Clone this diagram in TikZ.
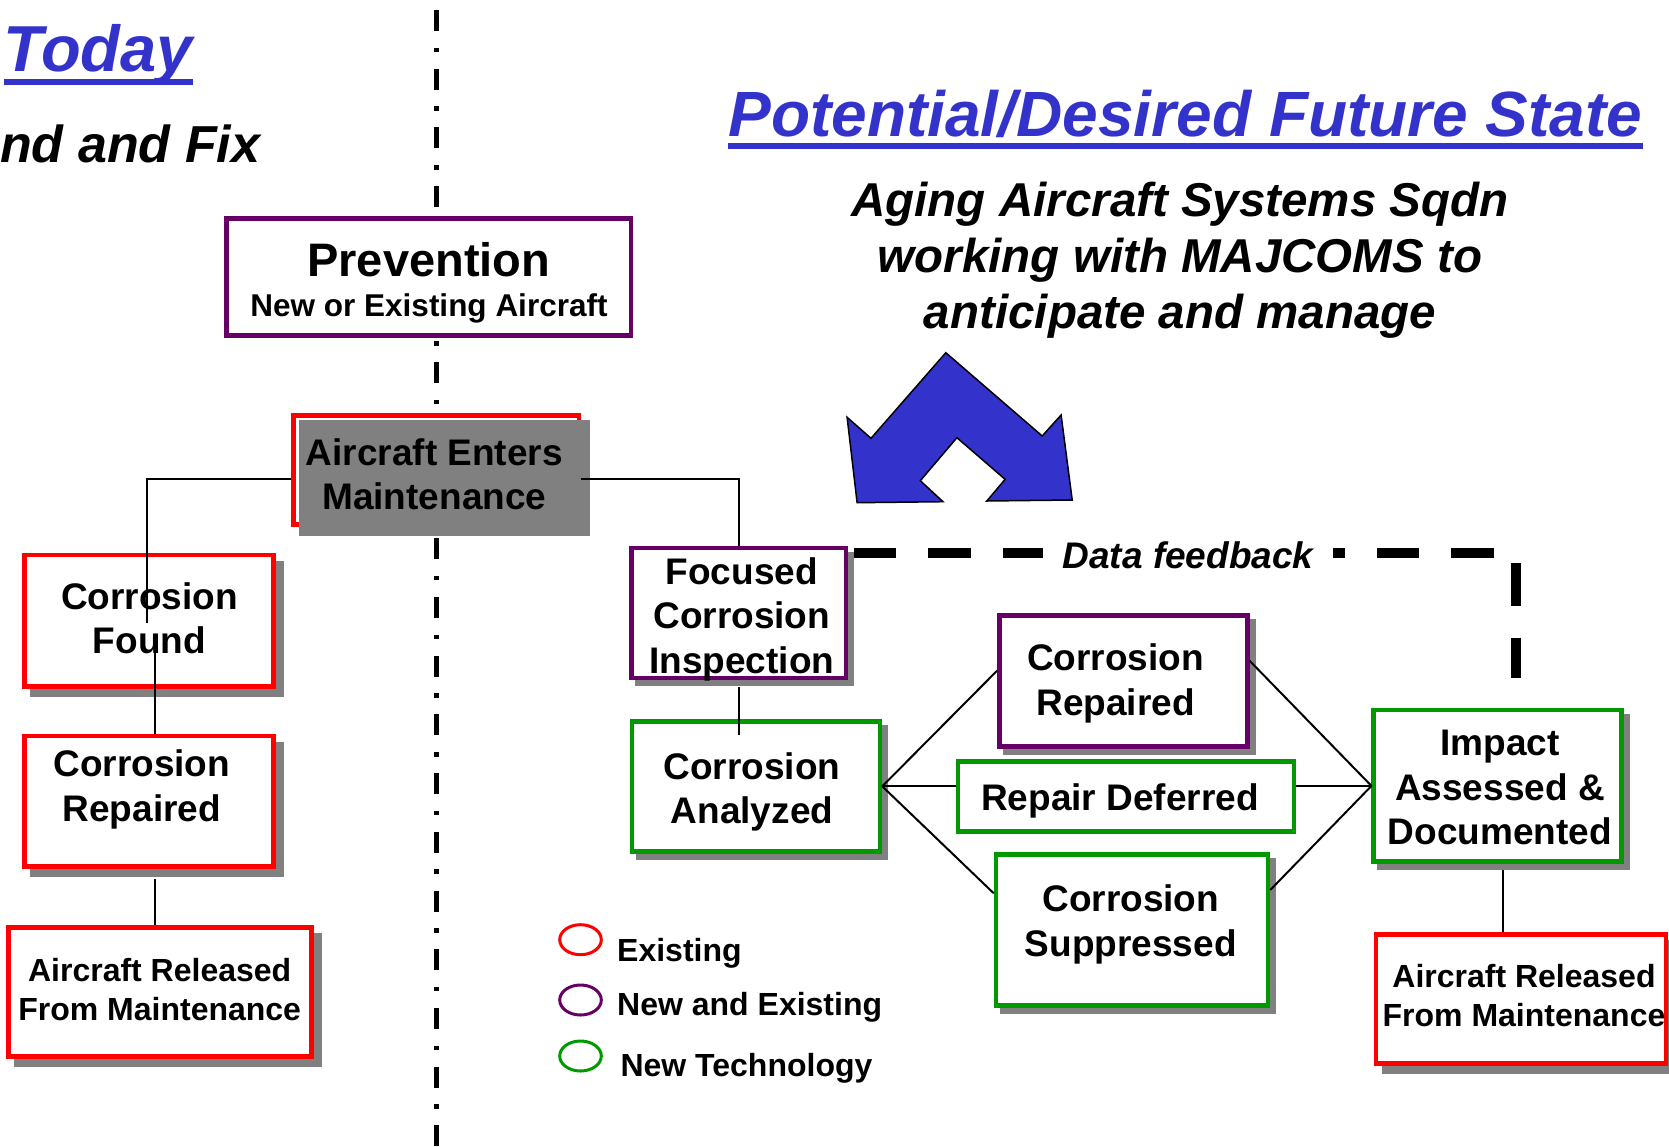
\documentclass[tikz,border=0pt]{standalone}
\usepackage{fontspec}
\setmainfont{Liberation Sans}
\usetikzlibrary{calc,shapes.geometric}
\definecolor{cRed}{HTML}{FF0000}
\definecolor{cPurple}{HTML}{660066}
\definecolor{cGreen}{HTML}{009900}
\definecolor{cShadow}{HTML}{808080}
\definecolor{cBlue}{HTML}{3333CC}
\newcommand\fsz[2]{\fontsize{#1pt}{#2pt}\selectfont}
\newcommand\mlines[1]{\begin{tabular}[t]{@{}c@{}}#1\end{tabular}}
\renewcommand\arraystretch{1}

\begin{document}
\begin{tikzpicture}[x=1pt,y=-1pt,
  box/.style={draw=#1, line width=4.5pt, fill=white, rectangle, inner sep=0pt},
  shadowA/.style={preaction={draw=cShadow, fill=cShadow, line width=4.5pt,
      transform canvas={shift={(8pt,-8pt)}}}},
  shadowB/.style={preaction={draw=cShadow, fill=cShadow, line width=4.5pt,
      transform canvas={shift={(6pt,-6pt)}}}},
  wire/.style={draw=black, line width=2pt},
  txt/.style={anchor=base, inner sep=0pt, text=black},
  big/.style={font=\bfseries\fsz{37}{44.6}},
  small/.style={font=\bfseries\fsz{32}{38.7}},
  legtext/.style={anchor=base west, inner sep=0pt, font=\bfseries\fsz{32}{38}},
  legmark/.style={draw=#1, line width=3pt, ellipse, minimum width=41.6pt,
      minimum height=30pt, inner sep=0pt},
  title/.style={anchor=base west, inner sep=0pt, text=cBlue,
      font=\bfseries\itshape\fsz{64}{70}},
  feedback/.style={draw=black, line width=10pt,
      dash pattern=on 42.6pt off 32.1pt, dash phase=69pt}
]
\useasboundingbox (0,0) rectangle (1669,1146);

% divider between the two halves
\coordinate (divTop) at (436,10);
\coordinate (divBot) at (436,1146);
\draw[line width=5pt, dash pattern=on 21pt off 16.6pt on 4.5pt off 16.6pt]
  (divTop) -- (divBot);

% headings
\node[title, font=\bfseries\itshape\fsz{65}{70}] (today) at (3.6,71.7) {Today};
\fill[cBlue] ($(today.base west)+(0,7.6)$) rectangle ($(today.base east)+(0,13.6)$);
\node[anchor=base west, inner sep=0pt, font=\bfseries\itshape\fsz{52}{60}]
  (fix) at (0,162.3) {nd and Fix};
\node[title] (future) at (728.3,136) {Potential/Desired Future State};
\fill[cBlue] ($(future.base west)+(0,7.3)$) rectangle ($(future.base east)+(0,13.3)$);
\node[txt, font=\bfseries\itshape\fsz{47.5}{55.8}] (sqdn) at (1180,216.7)
  {\mlines{Aging Aircraft Systems Sqdn\\working with MAJCOMS to\\anticipate and manage}};

% double-headed blue arrow
\draw[fill=cBlue, draw=black, line width=1.5pt, line join=miter]
  (945.8,352.7) -- (1042.2,436) -- (1061.1,415) -- (1072.2,500) -- (986.8,501)
  -- (1005.1,479.3) -- (956.9,437.7) -- (920.3,480.7) -- (943,501.7)
  -- (857.1,502.7) -- (847.1,417.3) -- (871,438.3) -- cycle;

% prevention
\node[box=cPurple, minimum width=404.4pt, minimum height=117pt] (prev) at (428.8,277.2) {};
\node[txt, font=\bfseries\fsz{47}{52}] (prevT) at (428.7,276) {Prevention};
\node[txt, font=\bfseries\fsz{31.5}{36}] (prevS) at (429,316.7) {New or Existing Aircraft};

% aircraft enters maintenance
\node[box=cRed, minimum width=285.4pt, minimum height=108.9pt] (enter) at (436.3,469.85) {};
\node[fill=cShadow, rectangle, inner sep=0pt, minimum width=291.5pt, minimum height=115.7pt]
  (enterShade) at (444.25,477.85) {};
\node[txt, font=\bfseries\fsz{37}{43.8}] (enterT) at (434.3,465.6)
  {\mlines{Aircraft Enters\\Maintenance}};

% data feedback loop
\coordinate (fbEnd) at (1516,678);
\draw[feedback] (848,553) -| (fbEnd);

% left column
\node[box=cRed, shadowA, minimum width=249pt, minimum height=131.7pt] (found) at (149.2,620.85) {};
\node[txt, big] (foundT) at (149.5,609) {\mlines{Corrosion\\Found}};
\node[box=cRed, shadowA, minimum width=249pt, minimum height=130.7pt] (repL) at (149.2,801.35) {};
\node[txt, big] (repLT) at (141.8,776.7) {\mlines{Corrosion\\Repaired}};
\node[box=cRed, shadowA, minimum width=302.6pt, minimum height=128.6pt] (relL) at (160,992) {};
\node[txt, small] (relLT) at (159.7,981.7) {\mlines{Aircraft Released\\From Maintenance}};

% right column
\node[box=cPurple, shadowB, minimum width=214.7pt, minimum height=130pt] (foc) at (738.65,613) {};
\node[txt, big] (focT) at (741.7,584) {\mlines{Focused\\Corrosion\\Inspection}};
\node[box=cGreen, shadowB, minimum width=248pt, minimum height=130pt] (ana) at (756,786.3) {};
\node[txt, big] (anaT) at (752,779) {\mlines{Corrosion\\Analyzed}};
\node[box=cPurple, shadowB, minimum width=248pt, minimum height=131pt] (crr) at (1123.3,680.8) {};
\node[txt, big] (crrT) at (1115.5,670.7) {\mlines{Corrosion\\Repaired}};
\node[box=cGreen, minimum width=336pt, minimum height=70pt] (rd) at (1126,796.3) {};
\node[txt, big] (rdT) at (1120,810.7) {Repair Deferred};
\node[box=cGreen, shadowB, minimum width=272pt, minimum height=151pt] (sup) at (1132,929.8) {};
\node[txt, big] (supT) at (1130.8,911.7) {\mlines{Corrosion\\Suppressed}};
\node[box=cGreen, shadowB, minimum width=247.6pt, minimum height=151.4pt] (imp) at (1497.5,785.9) {};
\node[txt, big] (impT) at (1500,755.7) {\mlines{Impact\\Assessed \&\\Documented}};
\node[box=cRed, shadowA, minimum width=290pt, minimum height=128.9pt] (arR) at (1521,998.95) {};
\node[txt, small] (arRT) at (1524,987.9) {\mlines{Aircraft Released\\From Maintenance}};

% feedback label
\node[anchor=base, fill=white, inner xsep=20pt, inner ysep=4pt,
  font=\bfseries\itshape\fsz{37}{40}] (fbT) at (1188,568) {Data feedback};

% connectors
\coordinate (foundIn) at (147,622.7);
\coordinate (foundOut) at (154.7,653);
\coordinate (repOut) at (154.7,879);
\coordinate (focOut) at (739.3,686.7);
\coordinate (anaIn) at (739.3,735);
\coordinate (impOut) at (1503.3,870);
\draw[wire] (enter.west |- 0,479) -| (foundIn);
\draw[wire] (foundOut) -- (foundOut |- repL.north);
\draw[wire] (repOut) -- (repOut |- relL.north);
\draw[wire] (enter.east |- 0,479) -| (foc.north);
\draw[wire] (focOut) -- (anaIn);
\draw[wire] (ana.east) -- ($(crr.west)+(0,-10.1)$);
\draw[wire] (ana.east) -- (rd.west |- ana.east);
\draw[wire] (ana.east) -- ($(sup.west)+(0,-36.5)$);
\draw[wire] ($(crr.east)+(0,-20.1)$) -- (imp.west);
\draw[wire] (rd.east |- imp.west) -- (imp.west);
\draw[wire] ($(sup.east)+(0,-39.8)$) -- (imp.west);
\draw[wire] (impOut) -- (impOut |- arR.north);

% legend
\node[legmark=cRed] (legRed) at (580.5,939.7) {};
\node[legmark=cPurple] (legPurple) at (580.5,1000) {};
\node[legmark=cGreen] (legGreen) at (580.5,1056) {};
\node[legtext] (legRedT) at (617,961.7) {Existing};
\node[legtext] (legPurpleT) at (617,1015.7) {New and Existing};
\node[legtext] (legGreenT) at (620.3,1076.7) {New Technology};
\end{tikzpicture}
\end{document}
